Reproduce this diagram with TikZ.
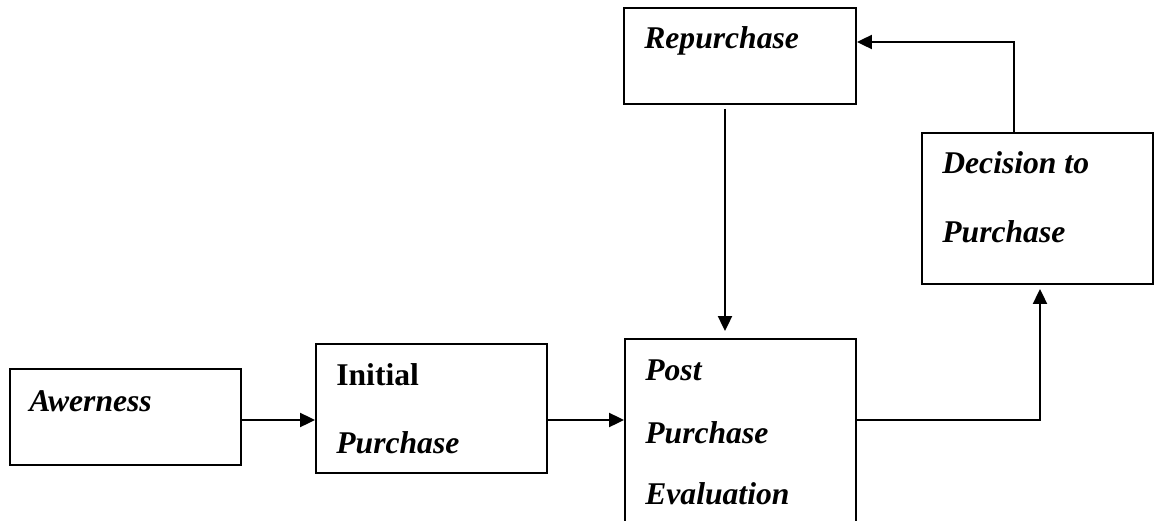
\documentclass[tikz,border=0pt]{standalone}
\usepackage{fontspec}
\setmainfont{Liberation Serif}
\usetikzlibrary{arrows.meta}

\begin{document}
\begin{tikzpicture}[x=0.02cm,y=-0.02cm,
  box/.style={draw,line width=1.1pt,rectangle,inner sep=0pt,minimum width=4.62cm},
  word/.style={anchor=base west,inner sep=0pt,font=\fontsize{18}{20}\selectfont\bfseries\itshape},
  arr/.style={line width=1.2pt,-{Triangle[length=0.3cm,width=0.28cm]}},
  lin/.style={line width=1.2pt}]
\clip (0,0) rectangle (1154,521);

\node[box,minimum height=1.92cm] (aw) at (125.5,417) {};
\node[box,minimum height=2.58cm] (init) at (431.5,408.5) {};
\node[box,minimum height=4.42cm] (post) at (740.5,449.5) {};
\node[box,minimum width=4.64cm,minimum height=1.92cm] (rep) at (740,56) {};
\node[box,minimum height=3.02cm] (dec) at (1037.5,208.5) {};

\node[word] (awt) at (29,411) {Awerness};
\node[word,font=\fontsize{18}{20}\selectfont\bfseries] (initt) at (336,385) {Initial};
\node[word] (initp) at (336,453) {Purchase};
\node[word] (postt) at (645,380) {Post};
\node[word] (postp) at (645,443) {Purchase};
\node[word] (poste) at (645,504) {Evaluation};
\node[word] (rept) at (644,48) {Repurchase};
\node[word] (dect) at (942,173) {Decision to};
\node[word] (decp) at (942,242) {Purchase};

\coordinate (row) at (0,420);
\coordinate (dn) at (725,0);
\coordinate (up) at (1040,0);
\coordinate (tp) at (1014,42);

\draw[arr] (aw.east |- row) -- (init.west |- row);
\draw[arr] (init.east |- row) -- (post.west |- row);
\draw[arr,shorten <=0.08cm,shorten >=0.14cm] (rep.south -| dn) -- (post.north -| dn);
\draw[arr,shorten >=0.08cm] (post.east |- row) -| (dec.south -| up);
\draw[arr] (dec.north -| tp) |- (rep.east |- tp);
\end{tikzpicture}
\end{document}
